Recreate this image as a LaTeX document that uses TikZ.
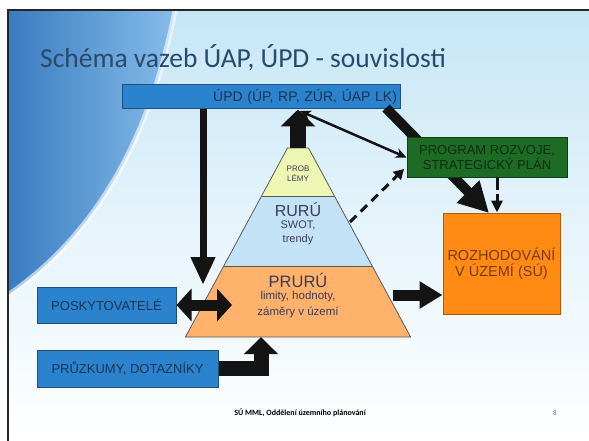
\documentclass[tikz,border=0pt]{standalone}
\usepackage{fontspec}
\setmainfont{Liberation Sans}
\newfontfamily\titlefont{Carlito}
\usetikzlibrary{arrows.meta,calc}
\definecolor{boxblue}{HTML}{2A83CC}
\definecolor{boxblueline}{HTML}{1D4F80}
\definecolor{boxbluetext}{HTML}{1B3552}
\definecolor{grn}{HTML}{1E6B25}
\definecolor{grnline}{HTML}{0F3D12}
\definecolor{grntext}{HTML}{0C2E10}
\definecolor{orng}{HTML}{FF8A14}
\definecolor{orngline}{HTML}{B35A00}
\definecolor{orngtext}{HTML}{7A3A05}
\definecolor{pyel}{HTML}{EEF6B4}
\definecolor{pblu}{HTML}{C4E2F5}
\definecolor{porg}{HTML}{FFB26B}
\definecolor{ptext}{HTML}{3C3C55}
\definecolor{ttl}{HTML}{284A6C}
\definecolor{arr}{HTML}{141414}
\definecolor{bgtop}{HTML}{C6E6F6}
\definecolor{bgmid}{HTML}{E6F4FB}
\definecolor{swA}{HTML}{3A7CC2}
\definecolor{swB}{HTML}{86BCE8}
\tikzset{
  bluebox/.style={draw=boxblueline, line width=1pt, fill=boxblue, text=boxbluetext, font=\fontsize{13}{14}\selectfont, inner sep=0pt},
  pyrface/.style={draw=black!65, line width=0.8pt},
  blockarr/.style={draw=arr, line width=#1},
}
\begin{document}
\begin{tikzpicture}[x=1pt,y=-1pt]
\useasboundingbox (0,0) rectangle (589,441);
\fill[white] (0,0) rectangle (589,441);
% slide background
\shade[top color=bgtop, bottom color=white, middle color=bgmid] (8,10) rectangle (589,441);
\shade[left color=swA, right color=swB]
  (8,10) -- (175,10) .. controls (150,140) and (95,235) .. (8,295) -- cycle;
\draw[white, opacity=0.6, line width=5pt] (175,10) .. controls (150,140) and (95,235) .. (8,295);
\draw[black!85, line width=1.6pt] (589,10) -- (8,10) -- (8,441);
% title
\node[anchor=base west, text=ttl, font=\titlefont\fontsize{27.5}{30}\selectfont, inner sep=0pt] (title) at (40,68) {Schéma vazeb ÚAP, ÚPD - souvislosti};
% footer
\node[font=\titlefont\bfseries\fontsize{8}{9}\selectfont, inner sep=0pt] (foot) at (300,413) {SÚ MML, Oddělení územního plánování};
\node[font=\titlefont\fontsize{7}{8}\selectfont, text=black!60, inner sep=0pt] (pnum) at (555,413) {8};
% pyramid
\coordinate (apex) at (298,148);
\fill[porg] (224,266) -- (372,266) -- (410.6,337) -- (185.4,337) -- cycle;
\fill[pblu] (261.6,196) -- (334.4,196) -- (372,266) -- (224,266) -- cycle;
\fill[pyel] (287.5,148) -- (308.5,148) -- (334.4,196) -- (261.6,196) -- cycle;
\draw[pyrface] (287.5,148) -- (308.5,148) -- (410.6,337) -- (185.4,337) -- cycle;
\draw[pyrface] (261.6,196) -- (334.4,196);
\draw[pyrface] (224,266) -- (372,266);
\node[text=ptext, font=\fontsize{8}{10}\selectfont, align=center, inner sep=0pt] (prob) at (298,174) {PROB\\LÉMY};
\node[text=ptext, font=\fontsize{16}{16}\selectfont, inner sep=0pt] (rur) at (298,210) {RURÚ};
\node[text=ptext, font=\fontsize{11}{14}\selectfont, align=center, inner sep=0pt] (swot) at (298,233) {SWOT,\\trendy};
\node[text=ptext, font=\fontsize{16.5}{16}\selectfont, inner sep=0pt] (prur) at (298,280) {PRURÚ};
\node[text=ptext, font=\fontsize{11.5}{16}\selectfont, align=center, inner sep=0pt] (lim) at (298,305) {limity, hodnoty,\\záměry v území};
% boxes
\node[bluebox, font=\fontsize{14}{15}\selectfont, minimum width=278pt, minimum height=24pt, text width=272pt, align=right] (upd) at (261,97) {ÚPD (ÚP, RP, ZÚR, ÚAP LK)};
\node[bluebox, minimum width=139pt, minimum height=36pt] (posk) at (106.5,305) {POSKYTOVATELÉ};
\node[bluebox, minimum width=181pt, minimum height=37pt] (prz) at (127.5,368.5) {PRŮZKUMY, DOTAZNÍKY};
\node[draw=orngline, line width=1pt, fill=orng, text=orngtext, minimum width=117pt, minimum height=101pt, align=center, font=\fontsize{14.5}{16}\selectfont, inner sep=0pt] (roz) at (501.5,263.5) {ROZHODOVÁNÍ\\V ÚZEMÍ (SÚ)};
% thick diagonal arrow behind green box
\coordinate (d8a) at (386,108);
\coordinate (d8b) at (489,213);
\draw[blockarr=10pt, -{Triangle[width=30pt,length=30pt]}] (d8a) -- (d8b);
\node[draw=grnline, line width=1pt, fill=grn, text=grntext, minimum width=160pt, minimum height=39pt, align=center, font=\fontsize{13}{15}\selectfont, inner sep=0pt] (grn) at (487,157.5) {PROGRAM ROZVOJE,\\STRATEGICKÝ PLÁN};
% arrows
\draw[blockarr=16pt, -{Triangle[width=34pt,length=17pt]}] (apex) -- (apex |- upd.south);
\coordinate (d2a) at (203,109.5);
\coordinate (d2b) at (203,285);
\draw[blockarr=7pt, -{Triangle[width=23pt,length=28pt]}] (d2a) -- (d2b);
\coordinate (d3b) at (232,305);
\draw[blockarr=11pt, {Triangle[width=32pt,length=15pt]}-{Triangle[width=32pt,length=15pt]}] (posk.east) -- (d3b);
\coordinate (d4b) at (261,337);
\draw[blockarr=15pt, -{Triangle[width=33pt,length=17pt]}] (prz.east) -| (d4b);
\coordinate (d5a) at (393,295);
\draw[blockarr=11pt, -{Triangle[width=26pt,length=23pt]}] (d5a) -- (d5a -| roz.west);
\coordinate (d7a) at (300,111);
\draw[draw=arr, line width=2.5pt, {Stealth[length=11pt,width=10pt]}-{Stealth[length=11pt,width=10pt]}] (d7a) -- (grn.west);
\coordinate (d6a) at (350,222);
\coordinate (d6b) at (404,169);
\draw[draw=arr, line width=3pt, dash pattern=on 9pt off 6pt, -{Triangle[width=11pt,length=10pt]}] (d6a) -- (d6b);
\coordinate (d9a) at (497,177.5);
\draw[draw=arr, line width=3pt, dash pattern=on 12pt off 4pt, -{Triangle[width=11pt,length=12pt]}] (d9a) -- (d9a |- roz.north);
\end{tikzpicture}
\end{document}
